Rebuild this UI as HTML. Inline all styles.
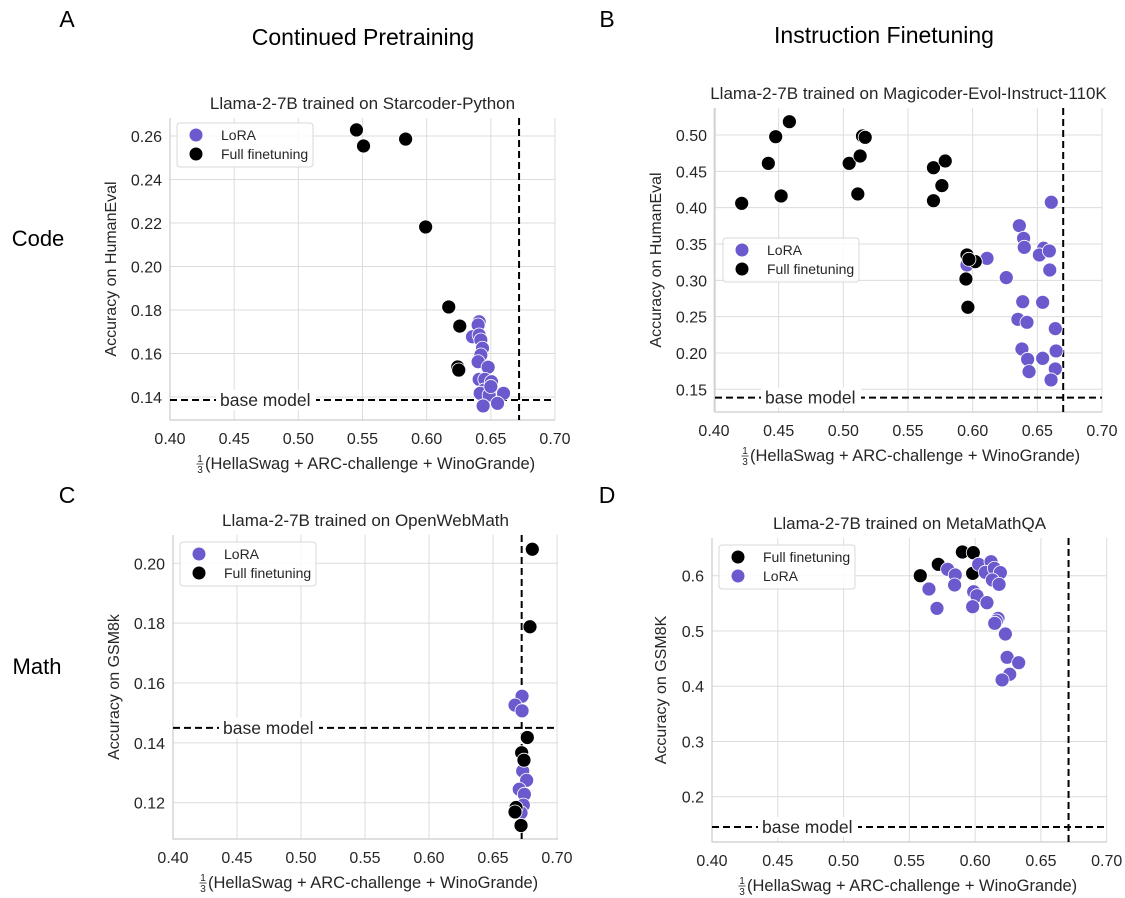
<!DOCTYPE html>
<html><head><meta charset="utf-8"><style>
body{margin:0;background:#fff;}
svg{display:block;font-family:"Liberation Sans",sans-serif;}
</style></head><body>
<svg id="fig" width="1125" height="898" viewBox="0 0 1125 898">
<g id="static" font-family="Liberation Sans, sans-serif">
<text x="67" y="27" font-size="23" text-anchor="middle">A</text>
<text x="607" y="27" font-size="23" text-anchor="middle">B</text>
<text x="67" y="503" font-size="23" text-anchor="middle">C</text>
<text x="607" y="503" font-size="23" text-anchor="middle">D</text>
<text x="363" y="45" font-size="23" text-anchor="middle">Continued Pretraining</text>
<text x="884" y="43" font-size="23" text-anchor="middle">Instruction Finetuning</text>
<text x="38" y="246" font-size="22" text-anchor="middle">Code</text>
<text x="37" y="674" font-size="22" text-anchor="middle">Math</text>
</g>
</svg>
<script>
// ---- data ----
const aFullX=[0.5453,0.5508,0.5836,0.5992,0.6172,0.6258,0.6242,0.625];
const aFullY=[0.2628,0.2554,0.2586,0.2182,0.1814,0.1726,0.1538,0.1524];
const aLoraX=[0.6409,0.6401,0.6357,0.6409,0.6422,0.6435,0.6422,0.6401,0.6479,0.6409,0.6453,0.6505,0.6448,0.6417,0.6487,0.6599,0.6552,0.6440,0.6500];
const aLoraY=[0.1746,0.1731,0.1677,0.1685,0.1662,0.1624,0.1593,0.1562,0.1537,0.1481,0.1481,0.1470,0.1432,0.1417,0.1409,0.1417,0.1371,0.1359,0.1448];
const bFullX=[0.4214,0.442,0.4477,0.4583,0.4519,0.5045,0.513,0.5148,0.5169,0.5112,0.5697,0.5788,0.5762,0.5697,0.5956,0.602,0.5948,0.5963,0.5971];
const bFullY=[0.406,0.461,0.4977,0.5183,0.4161,0.461,0.4711,0.4986,0.4968,0.4188,0.455,0.4642,0.4303,0.4096,0.3349,0.3257,0.3018,0.2629,0.3289];
const bLoraX=[0.6608,0.6361,0.6394,0.6399,0.6549,0.6516,0.6593,0.6596,0.6111,0.626,0.5956,0.6387,0.6541,0.6350,0.6420,0.6639,0.6381,0.6425,0.6541,0.6645,0.6436,0.6639,0.6606];
const bLoraY=[0.4074,0.3752,0.3578,0.3454,0.3441,0.3349,0.3404,0.3142,0.3303,0.3037,0.3211,0.2706,0.2697,0.2463,0.2422,0.2335,0.2055,0.1913,0.1927,0.2028,0.1743,0.1780,0.1629];
const cFullX=[0.6807,0.6789,0.6768,0.6724,0.6742,0.668,0.6672,0.6719];
const cFullY=[0.2047,0.1788,0.1418,0.1367,0.1342,0.1184,0.1169,0.1124];
const cLoraX=[0.6727,0.6672,0.6727,0.6732,0.6763,0.6705,0.6745,0.6737,0.6719];
const cLoraY=[0.1556,0.1526,0.1507,0.1306,0.1275,0.1245,0.1228,0.1192,0.1166];
const dFullX=[0.5583,0.572,0.5903,0.5986,0.5981];
const dFullY=[0.6,0.6206,0.6429,0.6417,0.6043];
const dLoraX=[0.5791,0.5849,0.5844,0.5649,0.571,0.6027,0.6121,0.6078,0.6146,0.6192,0.6131,0.6182,0.5989,0.6014,0.5981,0.6090,0.6174,0.6161,0.6149,0.623,0.6243,0.6331,0.6263,0.6205,0.6212];
const dLoraY=[0.6116,0.6013,0.5832,0.5759,0.541,0.6206,0.6254,0.6061,0.6133,0.6055,0.5922,0.5843,0.571,0.5638,0.5439,0.5512,0.5229,0.518,0.5138,0.4945,0.4523,0.4426,0.4216,0.4113];
const xTicks=[0.40,0.45,0.50,0.55,0.60,0.65,0.70];
const aYTicks=[0.14,0.16,0.18,0.20,0.22,0.24,0.26];
const bYTicks=[0.15,0.20,0.25,0.30,0.35,0.40,0.45,0.50];
const cYTicks=[0.12,0.14,0.16,0.18,0.20];
const dYTicks=[0.2,0.3,0.4,0.5,0.6];
const baseA=0.1386, baseB=0.1385, baseC=0.145, baseD=0.1452;
const vA=0.672, vB=0.670, vC=0.6724, vD=0.671;

const NS="http://www.w3.org/2000/svg";
const svg=document.getElementById('fig');
function mk(tag,attrs,parent){const e=document.createElementNS(NS,tag);for(const k in attrs)e.setAttribute(k,attrs[k]);(parent||svg).appendChild(e);return e;}
const LORA="#6a5acd";

function panel(cfg){
  const g=mk('g',{});
  
  
  const sx=v=>cfg.px0+(v-0.4)/0.3*(cfg.px1-cfg.px0);
  const sy=v=>cfg.py0+(v-cfg.yv0)/(cfg.yv1-cfg.yv0)*(cfg.py1-cfg.py0);
  const L=cfg.left,R=cfg.right,T=cfg.top,B=cfg.bottom;
  xTicks.forEach(t=>{
    const x=sx(t);
    const l=mk('line',{x1:x,x2:x,y1:T,y2:B,stroke:'#dcdcdc','stroke-width':1},g);
    
    
    const tx=mk('text',{x:x,y:B+24,'font-size':16,'text-anchor':'middle',fill:'#262626'},g);
    
    
    tx.textContent=t.toFixed(2);
  });
  cfg.yTicks.forEach(t=>{
    const y=sy(t);
    const l=mk('line',{x1:L,x2:R,y1:y,y2:y,stroke:'#dcdcdc','stroke-width':1},g);
    
    
    const tx=mk('text',{x:L-8,y:y+6,'font-size':16,'text-anchor':'end',fill:'#262626'},g);
    
    
    tx.textContent=t.toFixed(cfg.dec);
  });
  const sp=mk('path',{d:`M${L},${T}V${B}H${R}`,fill:'none',stroke:'#cccccc','stroke-width':1.2},g);
  
  
  const ti=mk('text',{x:(L+R)/2,y:T-9,'font-size':17,'text-anchor':'middle',fill:'#262626'},g);
  
  
  ti.textContent=cfg.title;
  const xl=mk('text',{x:L+35,y:B+49,'font-size':16.5,'text-anchor':'start',fill:'#262626'},g);
  
  
  xl.textContent='(HellaSwag + ARC-challenge + WinoGrande)';
  const fx=L+30;
  const f1=mk('text',{x:fx,y:B+42,'font-size':10,'text-anchor':'middle',fill:'#262626'},g);
  
  
  f1.textContent='1';
  mk('line',{x1:fx-3.5,x2:fx+3.5,y1:B+44,y2:B+44,stroke:'#262626','stroke-width':0.8},g);
  const f2=mk('text',{x:fx,y:B+53,'font-size':10,'text-anchor':'middle',fill:'#262626'},g);
  
  
  f2.textContent='3';
  const yl=mk('text',{x:0,y:0,'font-size':16,'text-anchor':'middle',fill:'#262626',transform:`translate(${cfg.ylx},${(T+B)/2}) rotate(-90)`},g);
  
  
  yl.textContent=cfg.ylabel;
  const by=sy(cfg.base);
  const hl=mk('line',{x1:L,x2:R,y1:by,y2:by,stroke:'#000','stroke-width':2,'stroke-dasharray':'7,4'},g);
  
  
  const vx=sx(cfg.vline);
  const vl=mk('line',{x1:vx,x2:vx,y1:T,y2:B,stroke:'#000','stroke-width':2,'stroke-dasharray':'7,4'},g);
  
  
  mk('rect',{x:L+46,y:by-10,width:100,height:20,fill:'#fff'},g);
  const bt=mk('text',{x:L+50,y:by+6,'font-size':17.5,fill:'#262626'},g);
  
  
  bt.textContent='base model';
  function pts(xs,ys,col,name){
    xs.forEach((v,i)=>{
      if(ys[i]===undefined)return;
      const c=mk('circle',{cx:sx(v),cy:sy(ys[i]),r:7,fill:col,stroke:'#fff','stroke-width':0.8},g);
      
      
    });
  }
  if(cfg.fullFirst){pts(cfg.fx,cfg.fy,'#000','point-full-finetuning');pts(cfg.lx,cfg.ly,LORA,'point-lora');}
  else{pts(cfg.lx,cfg.ly,LORA,'point-lora');pts(cfg.fx,cfg.fy,'#000','point-full-finetuning');}
  const lg=mk('g',{},g);
  
  
  mk('rect',{x:cfg.lgx,y:cfg.lgy,width:136,height:44,rx:3,fill:'#fff','fill-opacity':0.85,stroke:'#d8d8d8'},lg);
  cfg.legend.forEach((e,i)=>{
    const yy=cfg.lgy+12+i*19;
    const m=mk('circle',{cx:cfg.lgx+19,cy:yy,r:6.5,fill:e[1]},lg);
    
    
    const t=mk('text',{x:cfg.lgx+44,y:yy+5,'font-size':14,fill:'#262626'},lg);
    
    
    t.textContent=e[0];
  });
}
panel({id:'a',px0:170,px1:555,yv0:0.26,py0:136,yv1:0.14,py1:397,left:170,right:555,top:118,bottom:420,
  yTicks:aYTicks,dec:2,title:'Llama-2-7B trained on Starcoder-Python',ylabel:'Accuracy on HumanEval',ylx:116,
  base:baseA,vline:vA,fx:aFullX,fy:aFullY,lx:aLoraX,ly:aLoraY,lgx:177,lgy:123,
  legend:[['LoRA',LORA],['Full finetuning','#000']]});
panel({id:'b',px0:714,px1:1102,yv0:0.5,py0:135,yv1:0.15,py1:389.3,left:715,right:1102,top:108,bottom:412,
  yTicks:bYTicks,dec:2,title:'Llama-2-7B trained on Magicoder-Evol-Instruct-110K',ylabel:'Accuracy on HumanEval',ylx:661,
  base:baseB,vline:vB,fx:bFullX,fy:bFullY,lx:bLoraX,ly:bLoraY,lgx:723,lgy:238,
  legend:[['LoRA',LORA],['Full finetuning','#000']]});
panel({id:'c',px0:173,px1:557,yv0:0.2,py0:563.3,yv1:0.12,py1:802.7,left:173,right:558,top:535,bottom:839,
  yTicks:cYTicks,dec:2,title:'Llama-2-7B trained on OpenWebMath',ylabel:'Accuracy on GSM8k',ylx:119,
  base:baseC,vline:vC,fx:cFullX,fy:cFullY,lx:cLoraX,ly:cLoraY,lgx:180,lgy:542,
  legend:[['LoRA',LORA],['Full finetuning','#000']]});
panel({id:'d',px0:712,px1:1106.7,yv0:0.6,py0:575.7,yv1:0.2,py1:796.7,left:712,right:1107,top:538,bottom:842,
  yTicks:dYTicks,dec:1,title:'Llama-2-7B trained on MetaMathQA',ylabel:'Accuracy on GSM8K',ylx:666,
  base:baseD,vline:vD,fx:dFullX,fy:dFullY,lx:dLoraX,ly:dLoraY,lgx:719,lgy:545,fullFirst:true,
  legend:[['Full finetuning','#000'],['LoRA',LORA]]});
</script>
</body></html>
